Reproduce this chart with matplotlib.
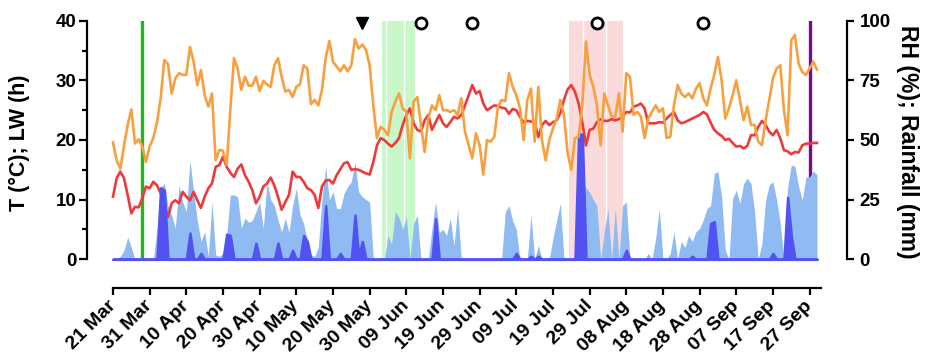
import numpy as np
import matplotlib
matplotlib.use("Agg")
import matplotlib.pyplot as plt

plt.rcParams['font.family'] = ['Liberation Sans', 'DejaVu Sans']
plt.rcParams['font.weight'] = 'bold'

# ---------------- data (day index 0 = 21 Mar) ----------------
tick_days = [0, 10, 20, 30, 40, 50, 60, 70, 80, 90, 100, 110, 120, 130, 140, 150, 160, 170, 180, 190]
tick_labels = ["21 Mar", "31 Mar", "10 Apr", "20 Apr", "30 Apr", "10 May", "20 May", "30 May",
               "09 Jun", "19 Jun", "29 Jun", "09 Jul", "19 Jul", "29 Jul", "08 Aug", "18 Aug",
               "28 Aug", "07 Sep", "17 Sep", "27 Sep"]

# Air temperature (°C)
temp_c = [10.5, 13.6, 14.7, 13.6, 10.8, 7.7, 8.8, 8.7, 10.3, 12.2,
          11.9, 13.0, 12.4, 11.1, 9.1, 7.1, 9.4, 9.9, 9.4, 11.3,
          10.5, 9.9, 11.3, 9.9, 8.6, 10.5, 11.9, 12.7, 15.5, 15.8,
          17.2, 15.5, 14.5, 13.8, 15.2, 15.9, 14.1, 13.0, 11.6, 9.4,
          10.5, 12.2, 12.7, 13.7, 12.4, 10.5, 8.3, 9.6, 10.8, 14.7,
          13.8, 13.8, 13.0, 11.9, 11.6, 10.8, 8.6, 12.2, 13.2, 13.3,
          12.7, 14.1, 15.1, 16.1, 16.3, 15.0, 15.1, 15.0, 14.7, 14.4,
          14.2, 16.3, 19.1, 20.3, 20.0, 19.4, 18.9, 19.5, 20.3, 22.5,
          24.2, 25.3, 22.8, 21.7, 21.4, 23.3, 24.2, 21.7, 23.0, 24.2,
          22.8, 22.2, 23.0, 23.9, 23.6, 24.2, 25.8, 27.5, 29.2, 27.8,
          28.2, 26.1, 25.0, 25.4, 25.8, 25.7, 25.4, 25.3, 24.4, 25.2,
          25.0, 23.9, 22.9, 23.2, 23.1, 23.0, 20.5, 22.5, 23.2, 22.5,
          23.0, 23.3, 24.5, 26.7, 28.5, 29.2, 28.1, 26.1, 23.0, 19.1,
          21.7, 21.9, 23.0, 23.5, 23.2, 23.2, 23.5, 23.3, 23.5, 23.9,
          24.7, 24.6, 25.6, 25.8, 26.1, 25.3, 22.8, 22.8, 22.8, 23.0,
          22.9, 23.6, 24.2, 24.7, 23.3, 22.8, 23.0, 23.3, 23.6, 23.9,
          24.2, 24.7, 24.3, 22.9, 21.7, 21.1, 20.7, 20.0, 20.2, 19.5,
          18.9, 19.0, 18.6, 19.0, 20.8, 20.8, 22.2, 23.2, 22.5, 21.4,
          20.8, 21.7, 20.3, 18.3, 18.1, 17.6, 18.0, 17.9, 19.1, 19.4,
          19.4, 19.5, 19.5]

# Leaf wetness duration (h)
leaf_wet_h = [0, 0, 0.5, 1.5, 3.7, 2.0, 0, 0, 0, 0,
              0, 0, 5.0, 12.0, 12.7, 9.0, 7.4, 5.2, 12.4, 9.6,
              8.0, 16.6, 11.3, 6.5, 3.0, 4.6, 0.5, 9.6, 0.7, 0.5,
              1.0, 4.0, 10.8, 10.8, 10.5, 5.2, 6.9, 6.2, 6.5, 8.0,
              9.6, 5.2, 13.0, 10.0, 9.0, 6.6, 4.6, 6.9, 4.5, 9.0,
              11.9, 7.5, 6.0, 3.0, 0.7, 0.5, 2.0, 10.2, 15.5, 10.0,
              11.3, 8.5, 8.5, 11.0, 12.2, 13.0, 16.3, 11.3, 10.5, 10.0,
              9.6, 0, 0, 0, 0, 4.0, 2.5, 8.0, 7.0, 5.0,
              7.1, 0, 6.0, 7.4, 0, 0, 0, 5.2, 9.6, 4.5,
              5.0, 4.0, 6.9, 2.3, 8.5, 0, 0, 0, 0, 0,
              0, 0, 0, 0, 0, 0, 0, 8.0, 9.0, 6.5,
              5.0, 0, 0, 0, 7.4, 0, 2.3, 0, 0, 0,
              3.5, 6.5, 9.4, 0, 0, 0, 0, 0, 13.0, 12.0,
              11.2, 10.0, 9.0, 0, 4.6, 8.5, 0, 8.5, 0, 9.0,
              9.6, 0, 0, 0, 0, 0, 1.0, 0, 3.4, 8.5,
              0, 0, 1.0, 4.6, 0, 3.0, 2.0, 4.0, 3.0, 4.6,
              5.2, 6.6, 8.5, 9.0, 14.4, 14.7, 10.5, 1.6, 0, 10.2,
              11.6, 9.4, 12.7, 13.6, 12.7, 8.0, 0, 2.7, 9.9, 12.5,
              13.0, 10.0, 6.0, 0, 12.0, 15.8, 15.6, 12.2, 9.9, 13.8,
              13.8, 14.8, 14.2]

# Relative humidity (%)
rh_pct = [49.0, 41.3, 38.0, 47.5, 56.3, 62.8, 48.5, 50.3, 47.3, 40.8,
          47.3, 50.8, 57.5, 67.5, 83.5, 81.8, 69.5, 75.8, 78.0, 77.3,
          77.3, 89.0, 82.8, 73.0, 79.3, 68.8, 64.0, 69.5, 41.5, 45.8,
          45.5, 39.5, 62.5, 84.3, 80.0, 71.0, 76.5, 72.8, 72.8, 76.5,
          70.5, 74.8, 73.3, 72.3, 81.3, 84.3, 76.5, 70.3, 71.0, 68.0,
          72.3, 73.3, 81.3, 80.0, 65.0, 66.8, 64.5, 71.0, 84.3, 91.5,
          82.8, 80.8, 78.8, 81.3, 78.8, 81.3, 92.3, 88.3, 90.0, 87.8,
          81.3, 64.5, 50.8, 55.5, 54.3, 52.0, 61.8, 66.0, 69.5, 63.3,
          61.8, 42.3, 66.0, 68.0, 56.3, 45.0, 59.0, 64.5, 62.5, 68.8,
          62.5, 62.5, 61.8, 62.5, 60.5, 67.5, 53.5, 47.8, 42.3, 52.8,
          47.8, 35.5, 50.0, 49.3, 51.3, 64.0, 66.8, 66.3, 78.0, 72.3,
          68.8, 63.3, 50.0, 66.8, 71.5, 49.3, 72.3, 50.0, 41.5, 50.0,
          54.8, 59.0, 66.8, 60.5, 44.5, 37.5, 50.8, 51.3, 64.5, 91.3,
          77.3, 72.3, 64.5, 47.8, 69.5, 64.5, 59.8, 59.8, 69.5, 53.5,
          78.0, 76.5, 60.5, 61.8, 59.8, 50.8, 59.0, 61.8, 64.5, 61.8,
          63.3, 50.8, 51.3, 64.5, 73.0, 69.5, 68.0, 69.5, 67.5, 71.5,
          73.8, 67.5, 64.5, 71.5, 77.5, 84.8, 75.0, 59.0, 63.3, 68.8,
          75.0, 66.8, 58.3, 64.0, 56.3, 56.3, 49.3, 47.8, 58.3, 66.8,
          75.8, 80.0, 81.3, 62.5, 52.0, 91.8, 94.0, 82.0, 78.5, 77.3,
          80.0, 82.8, 79.5]

# Rainfall (mm): days with rain and amounts
rain_days = [13, 14, 21, 24, 31, 32, 39, 45, 49, 52, 53, 58, 62, 66, 67, 68,
             88, 110, 114, 116, 127, 128, 140, 158, 163, 164, 180, 184, 185]
rain_mm = [30.0, 29.0, 11.0, 2.5, 10.5, 10.0, 6.8, 6.8, 3.8, 10.0, 7.5, 22.5, 2.5, 18.5, 1.3, 7.5,
           17.0, 2.5, 1.3, 1.3, 52.5, 52.5, 3.8, 1.3, 15.0, 15.8, 2.5, 26.0, 10.0]

# Events
spray_line_days = [8, 190]           # green, purple vertical lines
green_windows = [(73.3, 74.4), (74.4, 79.5), (79.5, 82.4)]
pink_windows = [(124.4, 128.3), (128.3, 134.4), (134.4, 139.2)]
triangle_days = [68]
circle_days = [84, 98, 132, 161]

n = len(temp_c)
days = np.arange(n)
rain = np.zeros(n)
rain[rain_days] = rain_mm

# ---------------- figure ----------------
W, H = 929, 360
fig = plt.figure(figsize=(W / 100, H / 100), dpi=100)
ax = fig.add_axes([87 / W, (H - 259.3) / H, (847 - 87) / W, (259.3 - 20.7) / H])
ax2 = ax.twinx()

ax.set_xlim(-7.09, 200.2)
ax.set_ylim(0, 40)
ax2.set_ylim(0, 100)

# spans
for a, b in green_windows:
    ax.axvspan(a, b, color='#c8f7c8', lw=0, zorder=0)
for a, b in pink_windows:
    ax.axvspan(a, b, color='#fadada', lw=0, zorder=0)
for a, b in green_windows[1:] + pink_windows[1:]:
    ax.axvline(a, color='white', lw=1.0, zorder=0.5)

ax.axvline(spray_line_days[0], color='#1fb81f', lw=2.4, zorder=1)
ax.axvline(spray_line_days[1], color='#7a0a8a', lw=2.4, zorder=1)

# leaf wetness (left axis)
ax.fill_between(days, leaf_wet_h, 0, color='#8fbaf2', lw=0, zorder=2)
# temperature (left axis)
ax.plot(days, temp_c, color='#ee3a3a', lw=1.9, zorder=4)

# rainfall and RH (right axis)
ax2.fill_between(days, rain, 0, facecolor='#5252f2', edgecolor='#5252f2', lw=1.8, zorder=2,
                 clip_on=False)
ax2.plot(days, rh_pct, color='#f7a040', lw=1.9, zorder=3)

# event markers at the top
trans = ax2.get_xaxis_transform()
ax2.plot(triangle_days, [0.99] * len(triangle_days), 'v', color='black', ms=8,
         transform=trans, clip_on=False, zorder=6)
ax2.plot(circle_days, [0.99] * len(circle_days), 'o', mfc='white', mec='black', mew=2.0,
         ms=8, transform=trans, clip_on=False, zorder=6)

# ---------------- axes styling ----------------
for a_ in (ax, ax2):
    a_.spines['top'].set_visible(False)
ax.spines['right'].set_visible(False)
ax2.spines['left'].set_visible(False)
ax2.spines['bottom'].set_visible(False)

ax.spines['left'].set_linewidth(1.6)
ax2.spines['right'].set_linewidth(1.6)
ax.spines['bottom'].set_linewidth(1.6)
ax.spines['bottom'].set_position(('outward', 20.7))
ax.spines['bottom'].set_bounds(0, 193)
ax.spines['left'].set_bounds(0, 40)
ax2.spines['right'].set_bounds(0, 100)

ax.set_yticks([0, 10, 20, 30, 40])
ax.set_yticks([5, 15, 25, 35], minor=True)
ax2.set_yticks([0, 25, 50, 75, 100])
ax.set_xticks(tick_days)
ax.set_xticklabels(tick_labels, rotation=45, ha='right', va='center', rotation_mode='anchor')

ax.tick_params(axis='y', which='major', length=6, width=1.6, labelsize=13.5, pad=1.5)
ax.tick_params(axis='y', which='minor', length=3.8, width=1.6)
ax2.tick_params(axis='y', length=5, width=1.6, labelsize=13.5, pad=4)
ax.tick_params(axis='x', length=5, width=1.6, labelsize=14, pad=6)

for lab in ax.get_yticklabels() + ax2.get_yticklabels() + ax.get_xticklabels():
    lab.set_fontweight('bold')

ax.set_ylabel("T (°C); LW (h)", fontsize=15.5, fontweight='bold')
ax.yaxis.set_label_coords(-0.075, 0.488)
ax2.set_ylabel("RH (%); Rainfall (mm)", fontsize=16.5, fontweight='bold', rotation=270,
               va='center')
ax2.yaxis.set_label_coords(1.08, 0.494)

fig.savefig("out.png", dpi=100)
